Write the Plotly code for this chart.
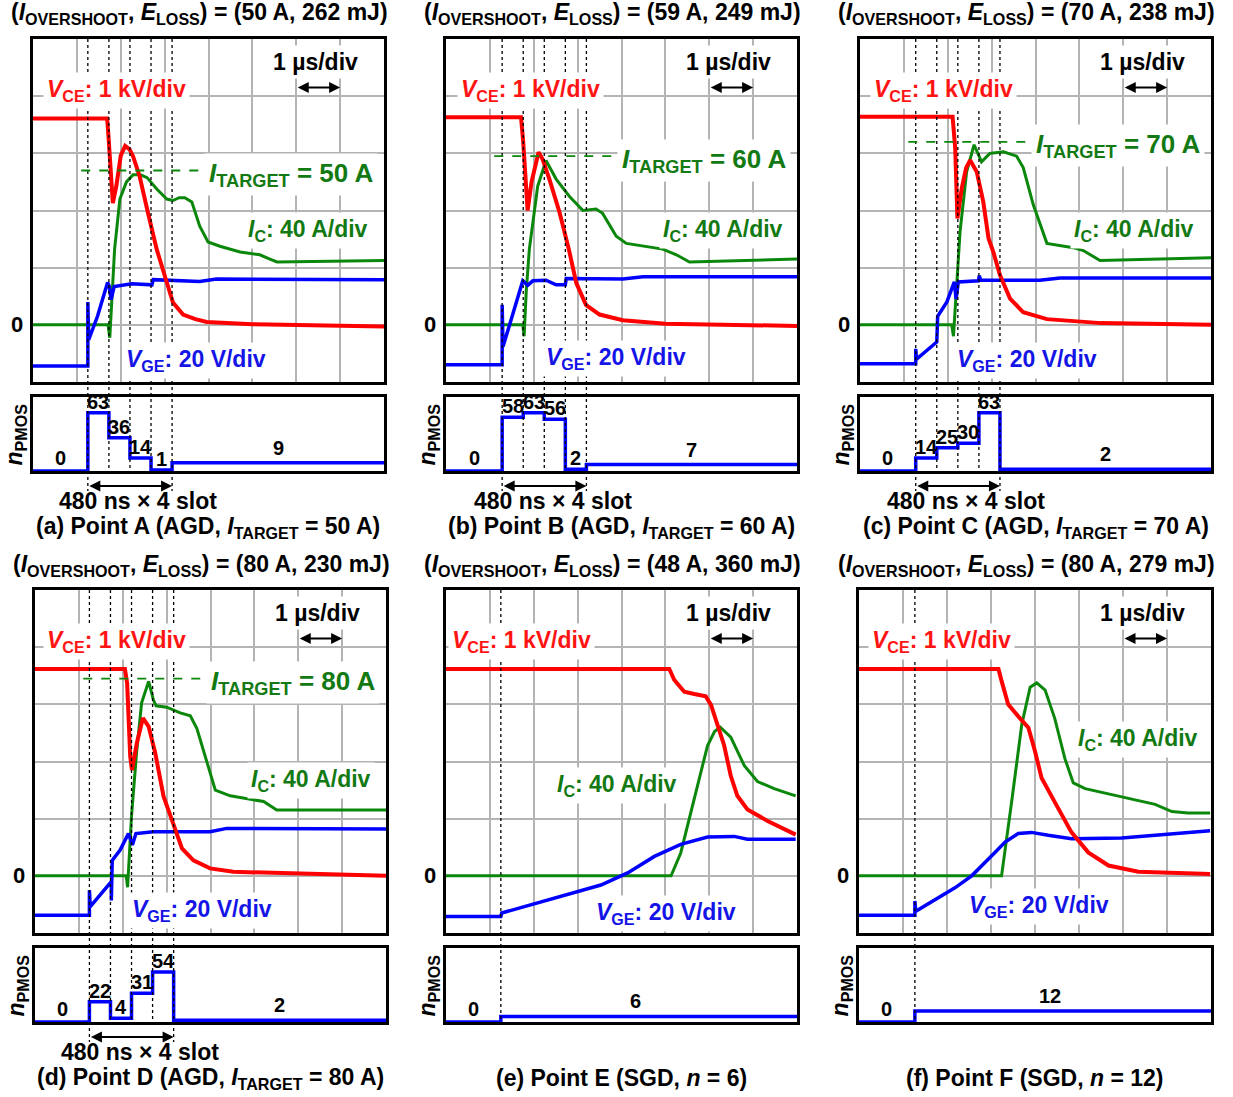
import plotly.graph_objects as go

# ------------------------------------------------------------------ data
# time in microseconds; V_CE in kV, I_C in A, V_GE in V
a_vce_t = [0, 1.69, 1.72, 1.82, 1.90, 2.00, 2.10, 2.20, 2.28, 2.43, 2.62, 2.82, 3.05, 3.19, 3.42, 3.70, 3.96, 5.00, 8.00]
a_vce_kv = [3.61, 3.61, 3.30, 2.13, 2.43, 2.96, 3.13, 3.07, 2.95, 2.60, 1.96, 1.32, 0.74, 0.39, 0.18, 0.10, 0.05, 0.01, -0.03]
a_ic_t = [0, 1.71, 1.75, 1.82, 1.86, 1.98, 2.13, 2.28, 2.45, 2.60, 2.82, 3.05, 3.19, 3.33, 3.46, 3.62, 3.80, 3.99, 4.26, 4.72, 5.17, 5.40, 5.56, 8.00]
a_ic_a = [0, 0, -9, 29, 53, 88, 100, 105, 105, 103, 95, 88, 87, 89, 89, 86, 69, 58, 55, 51, 49, 46, 44, 45]
a_vge_t = [0, 1.25, 1.25, 1.27, 1.47, 1.70, 1.74, 1.78, 1.85, 2.25, 2.71, 2.74, 3.80, 4.18, 8.00]
a_vge_v = [-14.4, -14.4, 8.0, -5.2, 3.0, 14.8, 13.4, 8.8, 13.4, 14.4, 14.0, 15.8, 15.2, 16.0, 15.8]

b_vce_t = [0, 1.71, 1.76, 1.86, 1.95, 2.11, 2.20, 2.36, 2.59, 2.80, 2.97, 3.19, 3.50, 4.03, 5.00, 8.00]
b_vce_kv = [3.63, 3.63, 3.20, 2.00, 2.50, 3.02, 2.90, 2.54, 1.96, 1.32, 0.73, 0.35, 0.18, 0.08, 0.02, -0.02]
b_ic_t = [0, 1.75, 1.78, 1.83, 1.90, 2.09, 2.28, 2.51, 2.81, 3.12, 3.42, 3.57, 3.88, 4.11, 4.94, 5.25, 5.55, 8.00]
b_ic_a = [0, 0, -8, 24, 53, 97, 115, 102, 90, 80, 81, 78, 62, 57, 53, 49, 44, 46]
b_vge_t = [0, 1.28, 1.28, 1.30, 1.75, 1.86, 1.98, 2.28, 2.51, 2.72, 2.74, 4.03, 4.49, 8.00]
b_vge_v = [-14.0, -14.0, 7.0, -7.6, 15.4, 13.8, 15.4, 15.6, 14.0, 14.0, 16.2, 16.0, 16.8, 16.8]

c_vce_t = [0, 2.11, 2.17, 2.22, 2.32, 2.42, 2.51, 2.66, 2.81, 2.93, 3.04, 3.19, 3.42, 3.72, 4.26, 5.50, 8.00]
c_vce_kv = [3.64, 3.64, 3.09, 1.86, 2.39, 2.75, 2.88, 2.68, 2.15, 1.51, 1.27, 0.87, 0.46, 0.22, 0.10, 0.03, 0.00]
c_ic_t = [0, 2.09, 2.13, 2.20, 2.28, 2.43, 2.60, 2.77, 2.96, 3.27, 3.57, 3.72, 3.95, 4.26, 4.86, 5.09, 5.47, 8.00]
c_ic_a = [0, 0, -8, 30, 65, 107, 126, 114, 120, 121, 118, 110, 84, 57, 54, 52, 45, 47]
c_vge_t = [0, 1.27, 1.27, 1.29, 1.75, 1.77, 1.98, 2.15, 2.19, 2.24, 2.70, 2.72, 2.75, 4.10, 4.56, 8.00]
c_vge_v = [-13.6, -13.6, -8.4, -12.0, -6.0, 3.0, 8.0, 15.0, 9.0, 15.0, 15.4, 17.2, 15.6, 15.6, 16.4, 16.4]

d_vce_t = [0, 2.05, 2.10, 2.17, 2.21, 2.32, 2.46, 2.59, 2.74, 2.93, 3.12, 3.35, 3.61, 3.99, 4.52, 8.00]
d_vce_kv = [3.62, 3.62, 3.37, 2.09, 1.85, 2.32, 2.76, 2.61, 2.15, 1.39, 0.98, 0.48, 0.27, 0.13, 0.07, 0.00]
d_ic_t = [0, 2.08, 2.11, 2.20, 2.32, 2.43, 2.59, 2.70, 2.76, 3.00, 3.31, 3.54, 3.69, 3.92, 4.11, 4.45, 5.21, 5.51, 8.00]
d_ic_a = [0, 0, -8, 42, 88, 121, 136, 123, 119, 118, 114, 112, 103, 79, 60, 56, 52, 46, 46]
d_vge_t = [0, 1.24, 1.24, 1.26, 1.74, 1.74, 1.76, 1.94, 2.13, 2.22, 2.30, 2.70, 3.99, 4.37, 8.00]
d_vge_v = [-13.8, -13.8, -5.0, -10.8, -2.0, -8.6, 5.4, 9.0, 14.8, 10.8, 14.8, 15.4, 15.4, 16.6, 16.4]

e_vce_t = [0, 5.09, 5.20, 5.43, 5.66, 5.92, 6.04, 6.19, 6.34, 6.49, 6.64, 6.87, 7.33, 7.97]
e_vce_kv = [3.62, 3.62, 3.43, 3.22, 3.18, 3.14, 2.99, 2.64, 2.28, 1.75, 1.40, 1.16, 0.96, 0.72]
e_ic_t = [0, 5.13, 5.35, 5.66, 5.96, 6.12, 6.25, 6.49, 6.80, 7.10, 7.48, 7.97]
e_ic_a = [0, 0, 16, 54, 91, 101, 104, 97, 77, 66, 61, 56]
e_vge_t = [0, 1.25, 1.27, 3.53, 4.14, 4.75, 5.35, 5.81, 5.96, 6.57, 6.87, 7.97]
e_vge_v = [-14.2, -14.2, -13.0, -3.2, 1.0, 6.8, 11.0, 13.2, 13.6, 13.8, 12.8, 12.8]

f_vce_t = [0, 3.17, 3.24, 3.39, 3.62, 3.85, 4.00, 4.15, 4.45, 4.83, 5.21, 5.67, 6.35, 7.98]
f_vce_kv = [3.62, 3.62, 3.41, 3.00, 2.79, 2.59, 2.18, 1.71, 1.29, 0.76, 0.41, 0.18, 0.07, 0.03]
f_ic_t = [0, 3.24, 3.47, 3.70, 3.89, 4.04, 4.23, 4.45, 4.68, 4.87, 5.14, 5.97, 6.73, 7.11, 7.48, 7.98]
f_ic_a = [0, 0, 52, 106, 132, 135, 130, 110, 82, 65, 61, 55, 50, 45, 44, 44]
f_vge_t = [0, 1.27, 1.27, 1.29, 2.18, 2.56, 3.09, 3.32, 3.62, 3.92, 4.30, 4.83, 5.97, 7.98]
f_vge_v = [-13.8, -13.8, -8.8, -12.4, -4.2, 0.0, 8.2, 11.8, 14.8, 15.2, 14.2, 13.0, 13.2, 15.8]

# gate-driver PMOS count: per 480 ns slot (AGD) then steady value
npmos_start_us = [1.25, 1.28, 1.27, 1.24, 1.25, 1.27]
a_npmos_slots = [63, 36, 14, 1]
b_npmos_slots = [58, 63, 56, 2]
c_npmos_slots = [14, 25, 30, 63]
d_npmos_slots = [22, 4, 31, 54]
e_npmos_slots = []
f_npmos_slots = []
npmos_after = [9, 7, 2, 2, 6, 12]
SLOT_US = 0.48

panel_letters = ["a", "b", "c", "d", "e", "f"]
point_names = ["A", "B", "C", "D", "E", "F"]
drive_type = ["AGD", "AGD", "AGD", "AGD", "SGD", "SGD"]
i_overshoot_a = [50, 59, 70, 80, 48, 80]
e_loss_mj = [262, 249, 238, 230, 360, 279]
i_target_a = [50, 60, 70, 80, None, None]
sgd_n = [None, None, None, None, 6, 12]
i_load_a = 58

# ------------------------------------------------------------------ styling / layout
W, H = 1233, 1097
FONT = "Liberation Sans, Arial, sans-serif"
RED, GREEN, BLUE = "#ff0000", "#0b870b", "#0000ff"
GREEN_T, BLUE_T, RED_T = "#137a13", "#1414e6", "#ff1414"
GRID = "#b4b4b4"

# pixel boxes: (x0, x1, main_top, main_bottom, small_top, small_bottom)
boxes = [
    (33, 384, 39, 382, 397, 471),
    (446, 797, 39, 382, 397, 471),
    (860, 1211, 39, 382, 397, 471),
    (35, 386, 590, 933, 948, 1022),
    (446, 797, 590, 933, 948, 1022),
    (859, 1211, 590, 933, 948, 1022),
]
vce_lab_x = [0.028, 0.031, 0.028, 0.023, 0.006, 0.026]
ic_lab_pos = [(0.966, 0.443, "right"), (0.971, 0.443, "right"), (0.963, 0.443, "right"),
              (0.969, 0.446, "right"), (0.487, 0.431, "center"), (0.974, 0.563, "right")]
vge_lab_pos = [(0.254, 0.064), (0.274, 0.068), (0.265, 0.064), (0.265, 0.067), (0.416, 0.058), (0.302, 0.076)]

vce_t = [a_vce_t, b_vce_t, c_vce_t, d_vce_t, e_vce_t, f_vce_t]
vce_kv = [a_vce_kv, b_vce_kv, c_vce_kv, d_vce_kv, e_vce_kv, f_vce_kv]
ic_t = [a_ic_t, b_ic_t, c_ic_t, d_ic_t, e_ic_t, f_ic_t]
ic_a = [a_ic_a, b_ic_a, c_ic_a, d_ic_a, e_ic_a, f_ic_a]
vge_t = [a_vge_t, b_vge_t, c_vge_t, d_vge_t, e_vge_t, f_vge_t]
vge_v = [a_vge_v, b_vge_v, c_vge_v, d_vge_v, e_vge_v, f_vge_v]
slots = [a_npmos_slots, b_npmos_slots, c_npmos_slots, d_npmos_slots, e_npmos_slots, f_npmos_slots]


def px(x):
    return x / W


def py(y):
    return 1 - y / H


def aname(letter, n):
    return f"{letter}axis" if n == 1 else f"{letter}axis{n}"


def ref(letter, n):
    return letter if n == 1 else f"{letter}{n}"


fig = go.Figure()
layout = dict(width=W, height=H, margin=dict(l=0, r=0, t=0, b=0), showlegend=False,
              paper_bgcolor="white", plot_bgcolor="white", font=dict(family=FONT, color="black"))
annotations = []
shapes = []

frame = dict(showline=True, mirror=True, linecolor="black", linewidth=2.5, zeroline=False,
             showticklabels=False, ticks="", fixedrange=True)

for k in range(6):
    i = k + 1
    x0, x1, mt, mb, st, sb = boxes[k]
    xm, xs = i, 6 + i
    y_ic, y_small, y_vge, y_vce = i, 6 + i, 12 + i, 18 + i

    layout[aname("x", xm)] = dict(domain=[px(x0), px(x1)], anchor=ref("y", y_ic), range=[0, 8],
                                  dtick=1, tick0=0, showgrid=True, gridcolor=GRID, gridwidth=1.5, **frame)
    layout[aname("y", y_ic)] = dict(domain=[py(mb), py(mt)], anchor=ref("x", xm), range=[-40, 200],
                                    dtick=40, tick0=0, showgrid=True, gridcolor=GRID, gridwidth=1.5, **frame)
    layout[aname("y", y_vge)] = dict(overlaying=ref("y", y_ic), anchor=ref("x", xm), range=[-20, 100],
                                     visible=False, showgrid=False, zeroline=False, fixedrange=True)
    layout[aname("y", y_vce)] = dict(overlaying=ref("y", y_ic), anchor=ref("x", xm), range=[-1, 5],
                                     visible=False, showgrid=False, zeroline=False, fixedrange=True)
    layout[aname("x", xs)] = dict(domain=[px(x0), px(x1)], anchor=ref("y", y_small), range=[0, 8],
                                  showgrid=False, **frame)
    layout[aname("y", y_small)] = dict(domain=[py(sb), py(st)], anchor=ref("x", xs), range=[0, 80],
                                       showgrid=False, **frame)

    # waveforms (green below, blue middle, red on top)
    fig.add_trace(go.Scatter(x=ic_t[k], y=ic_a[k], mode="lines", line=dict(color=GREEN, width=3),
                             xaxis=ref("x", xm), yaxis=ref("y", y_ic), hoverinfo="skip"))
    fig.add_trace(go.Scatter(x=vge_t[k], y=vge_v[k], mode="lines", line=dict(color=BLUE, width=3.5),
                             xaxis=ref("x", xm), yaxis=ref("y", y_vge), hoverinfo="skip"))
    fig.add_trace(go.Scatter(x=vce_t[k], y=vce_kv[k], mode="lines", line=dict(color=RED, width=4),
                             xaxis=ref("x", xm), yaxis=ref("y", y_vce), hoverinfo="skip"))

    # n_PMOS step
    s = npmos_start_us[k]
    sl = slots[k]
    if sl:
        step_x = [0, s] + [s + (j + 1) * SLOT_US for j in range(len(sl))] + [8]
        step_y = [0] + list(sl) + [npmos_after[k], npmos_after[k]]
    else:
        step_x = [0, s, 8]
        step_y = [0, npmos_after[k], npmos_after[k]]
    fig.add_trace(go.Scatter(x=step_x, y=step_y, mode="lines", line=dict(color=BLUE, width=3.5, shape="hv"),
                             xaxis=ref("x", xs), yaxis=ref("y", y_small), hoverinfo="skip"))

    # step value labels
    lab_font = dict(family=FONT, size=20, color="black")
    annotations.append(dict(text="<b>0</b>", x=s / 2, y=0, xref=ref("x", xs), yref=ref("y", y_small),
                            showarrow=False, yshift=13, font=lab_font))
    for j, n in enumerate(sl):
        annotations.append(dict(text=f"<b>{n}</b>", x=s + (j + 0.5) * SLOT_US, y=n, xref=ref("x", xs),
                                yref=ref("y", y_small), showarrow=False, yshift=11, font=lab_font))
    end_slots = s + len(sl) * SLOT_US
    after_x = (end_slots + 8) / 2 if sl else (end_slots + 8) / 2 - 0.3
    annotations.append(dict(text=f"<b>{npmos_after[k]}</b>", x=after_x, y=npmos_after[k], xref=ref("x", xs),
                            yref=ref("y", y_small), showarrow=False, yshift=15, font=lab_font))

    # dotted slot boundaries
    n_lines = len(sl) + 1 if sl else 1
    for j in range(n_lines):
        tx = s + j * SLOT_US
        long_line = (j == 0 or j == n_lines - 1) and bool(sl)
        bottom = sb + 20 if long_line else sb
        shapes.append(dict(type="line", xref=ref("x", xm), yref="paper", x0=tx, x1=tx,
                           y0=py(mt), y1=py(bottom), line=dict(color="black", width=1.3, dash="dot"),
                           layer="above"))

    big = dict(family=FONT, size=23)
    xd, yd = f"{ref('x', xm)} domain", f"{ref('y', y_ic)} domain"
    # title
    annotations.append(dict(text=f"<b>(<i>I</i><sub>OVERSHOOT</sub>, <i>E</i><sub>LOSS</sub>) = "
                                 f"({i_overshoot_a[k]} A, {e_loss_mj[k]} mJ)</b>",
                            x=0.475, y=1, xref=xd, yref=yd, yshift=25, showarrow=False,
                            xanchor="center", yanchor="middle", font=dict(big, color="black")))
    # channel labels
    annotations.append(dict(text="<b><i>V</i><sub>CE</sub>: 1 kV/div</b>", x=vce_lab_x[k], y=0.85,
                            xref=xd, yref=yd, xanchor="left", yanchor="middle", showarrow=False,
                            bgcolor="white", borderpad=3, font=dict(big, color=RED_T)))
    icx, icy, icanc = ic_lab_pos[k]
    annotations.append(dict(text="<b><i>I</i><sub>C</sub>: 40 A/div</b>", x=icx, y=icy,
                            xref=xd, yref=yd, xanchor=icanc, yanchor="middle", showarrow=False,
                            bgcolor="white", borderpad=3, font=dict(big, color=GREEN_T)))
    gx, gy = vge_lab_pos[k]
    annotations.append(dict(text="<b><i>V</i><sub>GE</sub>: 20 V/div</b>", x=gx, y=gy,
                            xref=xd, yref=yd, xanchor="left", yanchor="middle", showarrow=False,
                            bgcolor="white", borderpad=3, font=dict(big, color=BLUE_T)))
    annotations.append(dict(text="<b>1 µs/div</b>", x=0.806, y=0.932, xref=xd, yref=yd,
                            xanchor="center", yanchor="middle", showarrow=False,
                            bgcolor="white", borderpad=3, font=dict(big, color="black")))
    annotations.append(dict(text="", x=7, y=4.15, xref=ref("x", xm), yref=ref("y", y_vce),
                            ax=6, ay=4.15, axref=ref("x", xm), ayref=ref("y", y_vce),
                            showarrow=True, arrowhead=2, arrowside="end+start", arrowsize=1.1,
                            arrowwidth=2, arrowcolor="black", standoff=0, startstandoff=0))
    # zero marker and n_PMOS axis label
    annotations.append(dict(text="<b>0</b>", x=-0.046, y=0, xref=xd, yref=ref("y", y_ic),
                            xanchor="center", yanchor="middle", showarrow=False,
                            font=dict(family=FONT, size=22, color="black")))
    annotations.append(dict(text="<b><i>n</i><sub>PMOS</sub></b>", x=-0.05, y=0.5,
                            xref=f"{ref('x', xs)} domain", yref=f"{ref('y', y_small)} domain",
                            textangle=-90, xanchor="center", yanchor="middle", showarrow=False,
                            font=dict(big, color="black")))

    # target current line (AGD only)
    if i_target_a[k] is not None:
        lvl = i_load_a + i_target_a[k]
        shapes.append(dict(type="line", xref=ref("x", xm), yref=ref("y", y_ic), x0=1.1, x1=3.8,
                           y0=lvl, y1=lvl, line=dict(color=GREEN, width=1.8, dash="dash"), layer="above"))
        annotations.append(dict(text=f"<b><i>I</i><sub>TARGET</sub> = {i_target_a[k]} A</b>", x=3.9, y=lvl,
                                xref=ref("x", xm), yref=ref("y", y_ic), xanchor="left", yanchor="middle",
                                yshift=-4, showarrow=False, bgcolor="white", borderpad=4,
                                font=dict(family=FONT, size=26, color=GREEN_T)))
        # 480 ns x 4 slot
        annotations.append(dict(text="", x=s + 4 * SLOT_US, y=py(sb + 15), xref=ref("x", xm), yref="paper",
                                ax=s, axref=ref("x", xm), ay=0, ayref="pixel",
                                showarrow=True, arrowhead=2, arrowside="end+start", arrowsize=1.1,
                                arrowwidth=2, arrowcolor="black", standoff=0, startstandoff=0))
        annotations.append(dict(text="<b>480 ns × 4 slot</b>", x=s + 1.15, y=py(sb + 30),
                                xref=ref("x", xm), yref="paper", xanchor="center", yanchor="middle",
                                showarrow=False, font=dict(big, color="black")))
        cap = (f"<b>({panel_letters[k]}) Point {point_names[k]} ({drive_type[k]}, "
               f"<i>I</i><sub>TARGET</sub> = {i_target_a[k]} A)</b>")
    else:
        cap = f"<b>({panel_letters[k]}) Point {point_names[k]} ({drive_type[k]}, <i>n</i> = {sgd_n[k]})</b>"
    annotations.append(dict(text=cap, x=px((x0 + x1) / 2), y=py(sb + 56), xref="paper", yref="paper",
                            xanchor="center", yanchor="middle", showarrow=False,
                            font=dict(big, color="black")))

layout["annotations"] = annotations
layout["shapes"] = shapes
fig.update_layout(**layout)
fig.write_html("out.html")
